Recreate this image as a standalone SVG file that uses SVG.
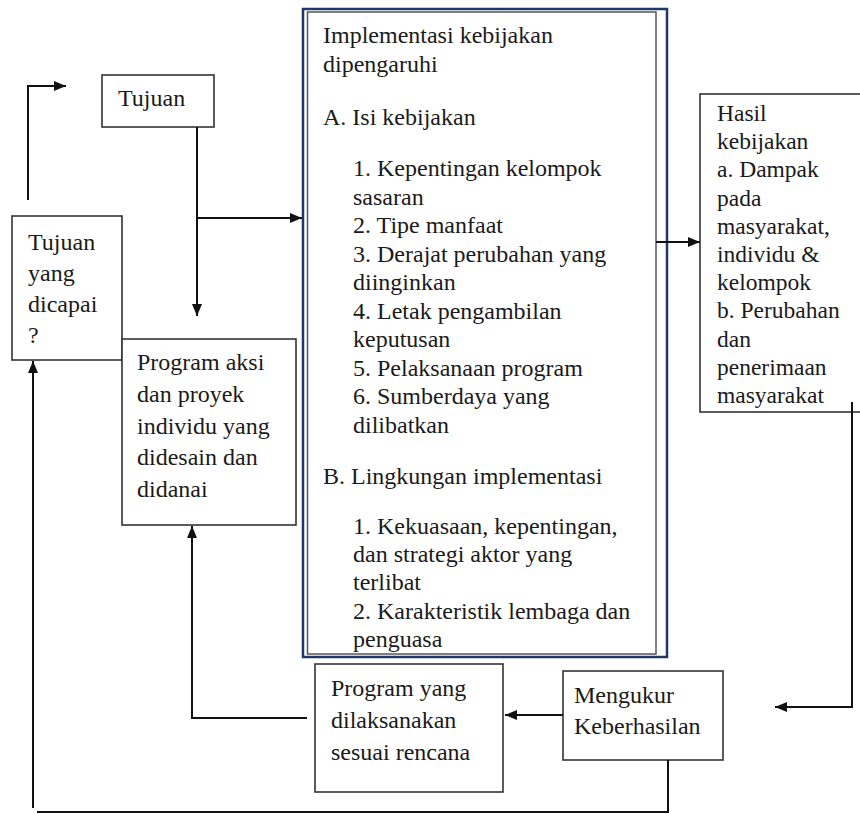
<svg xmlns="http://www.w3.org/2000/svg" width="860" height="814" viewBox="0 0 860 814">
<defs>
<marker id="ah" markerUnits="userSpaceOnUse" markerWidth="12" markerHeight="10" refX="12" refY="5" orient="auto">
<path d="M0,0 L12,5 L0,10 Z" fill="#111"/>
</marker>
<style>
.box{fill:#fff;stroke:#333;stroke-width:1.6}
.t{font-family:"Liberation Serif","Times New Roman",serif;font-size:24px;fill:#1a1a1a}
.th{font-family:"Liberation Serif","Times New Roman",serif;font-size:23.5px;fill:#1a1a1a}
.c{fill:none;stroke:#111;stroke-width:2}
</style>
</defs>
<rect width="860" height="814" fill="#fff"/>

<g id="node-implementasi">
<rect x="303" y="9" width="364" height="648" fill="#fff" stroke="#1f3864" stroke-width="2.5"/>
<rect x="307.5" y="12" width="348.5" height="642" fill="none" stroke="#555" stroke-width="1.5"/>
<text class="t" x="323" y="43">Implementasi kebijakan</text>
<text class="t" x="323" y="72">dipengaruhi</text>
<text class="t" x="323" y="125">A. Isi kebijakan</text>
<text class="t" x="353" y="176">1. Kepentingan kelompok</text>
<text class="t" x="353" y="204.5">sasaran</text>
<text class="t" x="353" y="233">2. Tipe manfaat</text>
<text class="t" x="353" y="261.5">3. Derajat perubahan yang</text>
<text class="t" x="353" y="290">diinginkan</text>
<text class="t" x="353" y="318.5">4. Letak pengambilan</text>
<text class="t" x="353" y="347">keputusan</text>
<text class="t" x="353" y="375.5">5. Pelaksanaan program</text>
<text class="t" x="353" y="404">6. Sumberdaya yang</text>
<text class="t" x="353" y="432.5">dilibatkan</text>
<text class="t" x="323" y="484">B. Lingkungan implementasi</text>
<text class="t" x="353" y="534">1. Kekuasaan, kepentingan,</text>
<text class="t" x="353" y="562">dan strategi aktor yang</text>
<text class="t" x="353" y="590">terlibat</text>
<text class="t" x="353" y="618.5">2. Karakteristik lembaga dan</text>
<text class="t" x="353" y="647">penguasa</text>
</g>

<g id="node-tujuan">
<rect class="box" x="102" y="75" width="112" height="52"/>
<text class="t" x="118" y="106">Tujuan</text>
</g>

<g id="node-tujuan-dicapai">
<rect class="box" x="12" y="216" width="110" height="144"/>
<text class="t" x="28" y="250">Tujuan</text>
<text class="t" x="28" y="281">yang</text>
<text class="t" x="28" y="312">dicapai</text>
<text class="t" x="28" y="343">?</text>
</g>

<g id="node-program-aksi">
<rect class="box" x="122" y="339" width="174" height="186"/>
<text class="t" x="137" y="370">Program aksi</text>
<text class="t" x="137" y="402">dan proyek</text>
<text class="t" x="137" y="434">individu yang</text>
<text class="t" x="137" y="465">didesain dan</text>
<text class="t" x="137" y="497">didanai</text>
</g>

<g id="node-hasil">
<rect class="box" x="700" y="94" width="175" height="318"/>
<text class="th" x="717" y="121">Hasil</text>
<text class="th" x="717" y="149.2">kebijakan</text>
<text class="th" x="717" y="177.4">a. Dampak</text>
<text class="th" x="717" y="205.6">pada</text>
<text class="th" x="717" y="233.8">masyarakat,</text>
<text class="th" x="717" y="262">individu &amp;</text>
<text class="th" x="717" y="290.2">kelompok</text>
<text class="th" x="717" y="318.4">b. Perubahan</text>
<text class="th" x="717" y="346.6">dan</text>
<text class="th" x="717" y="374.8">penerimaan</text>
<text class="th" x="717" y="403">masyarakat</text>
</g>

<g id="node-program-dilaksanakan">
<rect class="box" x="315" y="664" width="188" height="128"/>
<text class="t" x="331" y="696">Program yang</text>
<text class="t" x="331" y="728">dilaksanakan</text>
<text class="t" x="331" y="760">sesuai rencana</text>
</g>

<g id="node-mengukur">
<rect class="box" x="563" y="671" width="160" height="89"/>
<text class="t" x="574" y="703">Mengukur</text>
<text class="t" x="574" y="734">Keberhasilan</text>
</g>

<g id="connectors">
<path class="c" d="M28,200 V86 H66" marker-end="url(#ah)"/>
<path class="c" d="M197,127 V316" marker-end="url(#ah)"/>
<path class="c" d="M197,218 H302" marker-end="url(#ah)"/>
<path class="c" d="M656,242 H700" marker-end="url(#ah)"/>
<path class="c" d="M852,402 V707 H775" marker-end="url(#ah)"/>
<path class="c" d="M563,715 H505" marker-end="url(#ah)"/>
<path class="c" d="M307,718 H192 V526" marker-end="url(#ah)"/>
<path class="c" d="M668,760 V812 H37"/>
<path class="c" d="M33,808 V361" marker-end="url(#ah)"/>
</g>
</svg>
